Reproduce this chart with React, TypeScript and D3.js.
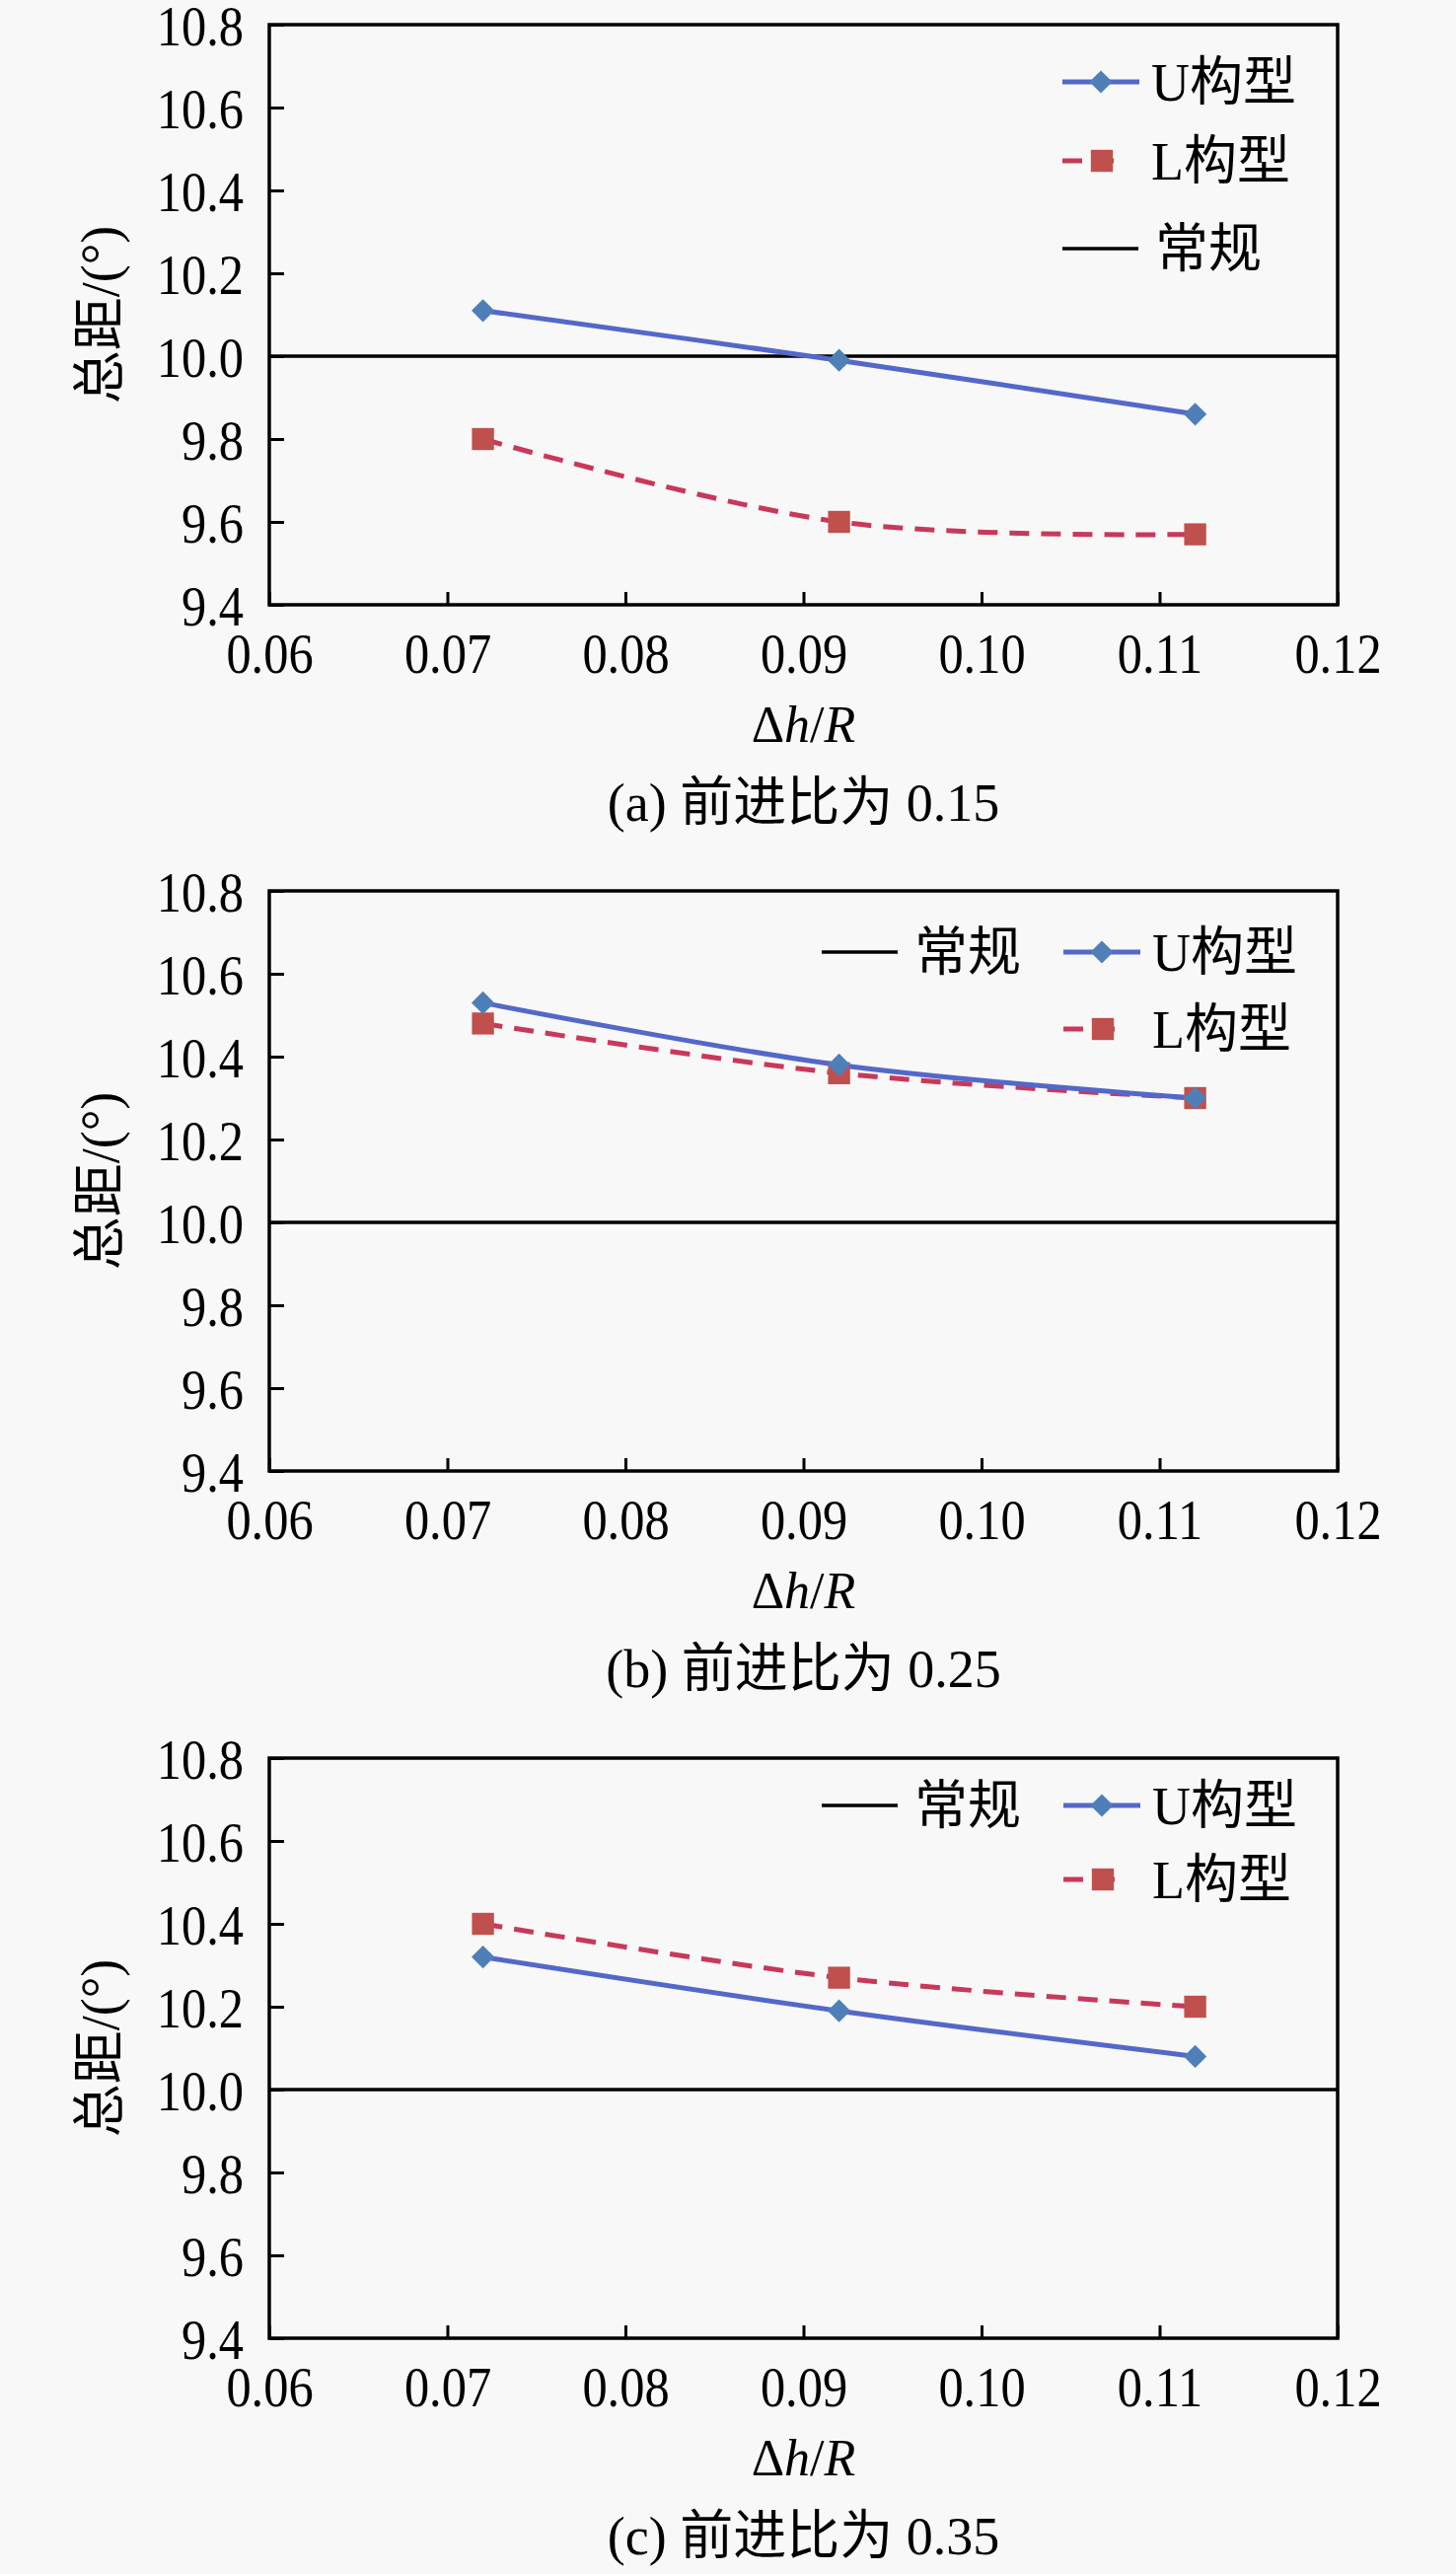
import * as d3 from 'd3'
import React, { useEffect, useRef } from 'react'

// x values: Δh/R
const dhR = [0.072, 0.092, 0.112]

// 总距 (deg), advance ratio 0.15 / 0.25 / 0.35
const uConfig015 = [10.11, 9.99, 9.86]
const lConfig015 = [9.8, 9.6, 9.57]
const uConfig025 = [10.53, 10.38, 10.3]
const lConfig025 = [10.48, 10.36, 10.3]
const uConfig035 = [10.32, 10.19, 10.08]
const lConfig035 = [10.4, 10.27, 10.2]
const conventional = 10.0

const xTickValues = [0.06, 0.07, 0.08, 0.09, 0.1, 0.11, 0.12]
const yTickValues = [9.4, 9.6, 9.8, 10.0, 10.2, 10.4, 10.6, 10.8]
const captions = ['(a) 前进比为 0.15', '(b) 前进比为 0.25', '(c) 前进比为 0.35']
const seriesNames = { U: 'U构型', L: 'L构型', C: '常规' }
const yLabel = '总距/(°)'

const W = 1476
const H = 2609
const left = 273
const right = 1356
const plotH = 588
const panelTops = [25, 903, 1782]
const fontFamily = "'Times New Roman', 'Liberation Serif', 'DejaVu Serif', 'Noto Sans CJK SC', serif"

const uColor = '#5468c9'
const uMarker = '#4f7fb8'
const lColor = '#c9385a'
const lMarker = '#c0504d'

// legend layout per panel: which entry, line start x, offset from panel top
const legendLayout = [
    [
        { key: 'U', lx: 1077, dy: 58 },
        { key: 'L', lx: 1077, dy: 138 },
        { key: 'C', lx: 1077, dy: 227 },
    ],
    [
        { key: 'C', lx: 833, dy: 62 },
        { key: 'U', lx: 1078, dy: 62 },
        { key: 'L', lx: 1078, dy: 140 },
    ],
    [
        { key: 'C', lx: 833, dy: 48 },
        { key: 'U', lx: 1078, dy: 48 },
        { key: 'L', lx: 1078, dy: 123 },
    ],
]

const App = (): JSX.Element => {
    const ref = useRef<SVGSVGElement>(null)

    useEffect(() => {
        const svg = d3.select(ref.current)
        svg.selectAll('*').remove()
        svg.append('rect').attr('width', W).attr('height', H).attr('fill', '#f8f8f8')

        const panels = [
            { u: uConfig015, l: lConfig015 },
            { u: uConfig025, l: lConfig025 },
            { u: uConfig035, l: lConfig035 },
        ]

        const x = d3.scaleLinear().domain([0.06, 0.12]).range([left, right])
        const diamond = d3.symbol(d3.symbolSquare, 270)
        const square = d3.symbol(d3.symbolSquare, 500)

        panels.forEach((p, i) => {
            const top = panelTops[i]
            const bottom = top + plotH
            const y = d3.scaleLinear().domain([9.4, 10.8]).range([bottom, top])
            const g = svg.append('g')

            // y axis (ticks inward)
            const ya = g
                .append('g')
                .attr('transform', `translate(${left},0)`)
                .call(
                    d3
                        .axisLeft(y)
                        .tickValues(yTickValues)
                        .tickSize(-15)
                        .tickSizeOuter(0)
                        .tickPadding(26)
                        .tickFormat(d3.format('.1f'))
                )
            ya.attr('font-family', null)
            ya.select('.domain').remove()
            ya.selectAll('line').attr('stroke', '#000').attr('stroke-width', 3)
            ya.selectAll('text')
                .attr('x', -26 / 0.9)
                .attr('dy', '0.37em')
                .attr('transform', 'scale(0.9,1)')
                .attr('font-size', 56)
                .style('font-family', fontFamily)
                .attr('fill', '#000')

            // x axis
            const xa = g
                .append('g')
                .attr('transform', `translate(0,${bottom})`)
                .call(
                    d3
                        .axisBottom(x)
                        .tickValues(xTickValues)
                        .tickSize(-13)
                        .tickSizeOuter(0)
                        .tickPadding(29)
                        .tickFormat(d3.format('.2f'))
                )
            xa.attr('font-family', null)
            xa.select('.domain').remove()
            xa.selectAll('line').attr('stroke', '#000').attr('stroke-width', 3)
            xa.selectAll('text')
                .attr('dy', '0.71em')
                .attr('transform', 'scale(0.9,1)')
                .attr('font-size', 56)
                .style('font-family', fontFamily)
                .attr('fill', '#000')

            // plot frame
            g.append('rect')
                .attr('x', left)
                .attr('y', top)
                .attr('width', right - left)
                .attr('height', plotH)
                .attr('fill', 'none')
                .attr('stroke', '#000')
                .attr('stroke-width', 3.5)

            // conventional rotor reference
            g.append('line')
                .attr('x1', x(0.06))
                .attr('x2', x(0.12))
                .attr('y1', y(conventional))
                .attr('y2', y(conventional))
                .attr('stroke', '#000')
                .attr('stroke-width', 3.5)

            const line = d3
                .line<number>()
                .x((d, j) => x(dhR[j]))
                .y((d) => y(d))
                .curve(d3.curveCardinal.tension(0))

            g.append('path')
                .attr('d', line(p.l))
                .attr('fill', 'none')
                .attr('stroke', lColor)
                .attr('stroke-width', 5)
                .attr('stroke-dasharray', '20,12')

            g.append('path')
                .attr('d', line(p.u))
                .attr('fill', 'none')
                .attr('stroke', uColor)
                .attr('stroke-width', 5)

            g.append('g')
                .selectAll('path')
                .data(p.l)
                .enter()
                .append('path')
                .attr('d', square())
                .attr('transform', (d, j) => `translate(${x(dhR[j])},${y(d)})`)
                .attr('fill', lMarker)

            g.append('g')
                .selectAll('path')
                .data(p.u)
                .enter()
                .append('path')
                .attr('d', diamond())
                .attr('transform', (d, j) => `translate(${x(dhR[j])},${y(d)}) rotate(45)`)
                .attr('fill', uMarker)

            // legend
            legendLayout[i].forEach((e) => {
                const ly = top + e.dy
                const lg = g.append('g')
                if (e.key === 'U') {
                    lg.append('line')
                        .attr('x1', e.lx)
                        .attr('x2', e.lx + 78)
                        .attr('y1', ly)
                        .attr('y2', ly)
                        .attr('stroke', uColor)
                        .attr('stroke-width', 5)
                    lg.append('path')
                        .attr('d', diamond())
                        .attr('transform', `translate(${e.lx + 39},${ly}) rotate(45)`)
                        .attr('fill', uMarker)
                } else if (e.key === 'L') {
                    lg.append('line')
                        .attr('x1', e.lx)
                        .attr('x2', e.lx + 60)
                        .attr('y1', ly)
                        .attr('y2', ly)
                        .attr('stroke', lColor)
                        .attr('stroke-width', 5)
                        .attr('stroke-dasharray', '20,12')
                    lg.append('path')
                        .attr('d', square())
                        .attr('transform', `translate(${e.lx + 40},${ly})`)
                        .attr('fill', lMarker)
                } else {
                    lg.append('line')
                        .attr('x1', e.lx)
                        .attr('x2', e.lx + 77)
                        .attr('y1', ly)
                        .attr('y2', ly)
                        .attr('stroke', '#000')
                        .attr('stroke-width', 3.5)
                }
                lg.append('text')
                    .attr('x', e.lx + (e.key === 'C' ? 94 : 90))
                    .attr('y', ly)
                    .attr('dy', '0.36em')
                    .attr('font-size', 54)
                    .style('font-family', fontFamily)
                    .text(seriesNames[e.key])
            })

            // axis titles
            g.append('text')
                .attr('transform', `translate(101,${top + plotH / 2}) rotate(-90)`)
                .attr('text-anchor', 'middle')
                .attr('dy', '0.36em')
                .attr('font-size', 54)
                .style('font-family', fontFamily)
                .text(yLabel)

            const xt = g
                .append('text')
                .attr('x', (left + right) / 2)
                .attr('y', bottom + 139)
                .attr('text-anchor', 'middle')
                .attr('font-size', 52)
                .style('font-family', fontFamily)
            xt.append('tspan').text('Δ')
            xt.append('tspan').attr('font-style', 'italic').text('h')
            xt.append('tspan').text('/')
            xt.append('tspan').attr('font-style', 'italic').text('R')

            g.append('text')
                .attr('x', (left + right) / 2)
                .attr('y', bottom + 219)
                .attr('text-anchor', 'middle')
                .attr('font-size', 54)
                .style('font-family', fontFamily)
                .text(captions[i])
        })
    }, [])

    return (
        <svg
            ref={ref}
            width={W}
            height={H}
            style={{ position: 'absolute', left: 0, top: 0, display: 'block' }}
        />
    )
}

export default App
